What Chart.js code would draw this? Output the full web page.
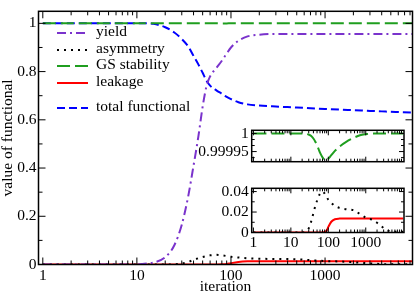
<!DOCTYPE html>
<html>
<head>
<meta charset="utf-8">
<script src="https://cdn.jsdelivr.net/npm/chart.js@4/dist/chart.umd.min.js"></script>
<style>
  body { margin: 0; background: #fff; }
  #wrap { position: relative; width: 415px; height: 295px; }
  canvas { position: absolute; }
</style>
</head>
<body>
<div id="wrap">
  <canvas id="mainChart" width="415" height="295" style="left:0;top:0"></canvas>
  <canvas id="insetGs" width="212" height="56" style="left:195px;top:118px"></canvas>
  <canvas id="insetAsym" width="212" height="78" style="left:195px;top:176px"></canvas>
</div>
<script>
// iteration grid shared by all series
const iterations = [1, 10, 12, 15, 20, 25, 30, 35, 40, 45, 50, 55, 60, 70, 80, 90, 100, 120, 150, 200, 300, 500, 700, 1000, 1500, 2000, 3000, 4000, 5000, 6000, 10000];

const yieldVals = [0, 0, 0.003, 0.008, 0.03, 0.08, 0.165, 0.28, 0.41, 0.53, 0.655, 0.74, 0.78, 0.815, 0.845, 0.875, 0.9, 0.928, 0.946, 0.953, 0.956, 0.956, 0.956, 0.956, 0.956, 0.956, 0.956, 0.956, 0.956, 0.956, 0.956];
const asymVals = [0, 0, 0, 0, 0, 0.001, 0.004, 0.011, 0.019, 0.026, 0.031, 0.035, 0.038, 0.04, 0.038, 0.035, 0.032, 0.029, 0.026, 0.024, 0.0228, 0.0215, 0.018, 0.0145, 0.0123, 0.0095, 0.0045, 0.0018, 0.001, 0.0008, 0.0007];
const gsVals = [1, 1, 1, 1, 1, 1, 0.999997, 0.999993, 0.999986, 0.999977, 0.999967, 0.999957, 0.999947, 0.999934, 0.999926, 0.999925, 0.99993, 0.99994, 0.999952, 0.999964, 0.999977, 0.999989, 0.999995, 0.999998, 1, 1, 1, 1, 1, 1, 1];
const leakVals = [0, 0, 0, 0, 0, 0, 0, 0, 0, 0, 0, 0, 0, 0.0002, 0.0006, 0.0018, 0.0055, 0.0105, 0.013, 0.0136, 0.0138, 0.0138, 0.0138, 0.0138, 0.0138, 0.0138, 0.0138, 0.0138, 0.0138, 0.0138, 0.0138];
const totalVals = [1, 1, 1, 0.998, 0.984, 0.962, 0.935, 0.905, 0.865, 0.83, 0.795, 0.762, 0.742, 0.722, 0.708, 0.695, 0.686, 0.673, 0.664, 0.659, 0.655, 0.651, 0.648, 0.645, 0.642, 0.64, 0.637, 0.635, 0.633, 0.632, 0.629];

// tick labels
const xTicks = [1, 10, 100, 1000];
const mainYTicks = [0, 0.2, 0.4, 0.6, 0.8, 1];
const mainYMinor = [0.1, 0.3, 0.5, 0.7, 0.9];
const gsYTicks = [0.99995, 1];
const gsYMinor = [0.9999333, 0.9999667, 0.9999833];
const asymYTicks = [0, 0.02, 0.04];
const asymYMinor = [0.01, 0.03];

// minor log ticks 2..9 in each decade
const xMinor = [];
xTicks.forEach(d => { for (let m = 2; m <= 9; m++) xMinor.push(d * m); });

const FONT = { family: '"Liberation Serif", "DejaVu Serif", serif', size: 15.5 };

const series = {
    yield:  { label: 'yield', data: yieldVals, color: '#7a33cc', dash: [9, 4, 2, 4] },
    asym:   { label: 'asymmetry', data: asymVals, color: '#000000', dash: [2, 5] },
    gs:     { label: 'GS stability', data: gsVals, color: '#1f9e1f', dash: [13, 5] },
    leak:   { label: 'leakage', data: leakVals, color: '#ff0000', dash: [] },
    total:  { label: 'total functional', data: totalVals, color: '#0000ff', dash: [8, 4] }
};

function dataset(s) {
    return {
        label: s.label,
        data: iterations.map((it, i) => ({ x: it, y: s.data[i] })),
        borderColor: s.color,
        backgroundColor: s.color,
        borderDash: s.dash,
        borderWidth: 2,
        pointRadius: 0,
        cubicInterpolationMode: 'monotone',
        fill: false
    };
}

// frame with inward ticks on all four sides, plus optional white background
const boxTicks = {
    id: 'boxTicks',
    beforeDraw(chart, args, o) {
        if (!o.fill) return;
        const a = chart.chartArea;
        chart.ctx.save();
        chart.ctx.fillStyle = '#fff';
        chart.ctx.fillRect(a.left, a.top, a.right - a.left, a.bottom - a.top);
        chart.ctx.restore();
    },
    afterDatasetsDraw(chart, args, o) {
        const { ctx, chartArea: a } = chart;
        const xs = chart.scales.x, ys = chart.scales.y;
        ctx.save();
        ctx.strokeStyle = '#000';
        ctx.lineWidth = 1;
        ctx.beginPath();
        const markX = (vals, len) => vals.forEach(v => {
            const p = xs.getPixelForValue(v);
            if (p < a.left - 0.5 || p > a.right + 0.5) return;
            ctx.moveTo(p, a.bottom); ctx.lineTo(p, a.bottom - len);
            ctx.moveTo(p, a.top); ctx.lineTo(p, a.top + len);
        });
        const markY = (vals, len) => vals.forEach(v => {
            const p = ys.getPixelForValue(v);
            if (p < a.top - 0.5 || p > a.bottom + 0.5) return;
            ctx.moveTo(a.left, p); ctx.lineTo(a.left + len, p);
            ctx.moveTo(a.right, p); ctx.lineTo(a.right - len, p);
        });
        markX(o.xMajor, o.major);
        markX(o.xMinor, o.minor);
        markY(o.yMajor, o.major);
        markY(o.yMinor, o.minor);
        ctx.stroke();
        ctx.lineWidth = o.frame;
        ctx.strokeRect(a.left, a.top, a.right - a.left, a.bottom - a.top);
        ctx.restore();
    }
};

// legend drawn inside the plot, line samples use the dataset styles
const innerLegend = {
    id: 'innerLegend',
    afterDraw(chart, args, o) {
        if (!o.rows) return;
        const ctx = chart.ctx;
        ctx.save();
        ctx.font = FONT.size + 'px ' + FONT.family;
        ctx.textBaseline = 'middle';
        ctx.fillStyle = '#000';
        chart.data.datasets.forEach((ds, i) => {
            const y = o.rows[i];
            ctx.strokeStyle = ds.borderColor;
            ctx.lineWidth = ds.borderWidth;
            ctx.setLineDash(ds.borderDash);
            ctx.beginPath();
            ctx.moveTo(o.x0, y + 1);
            ctx.lineTo(o.x1, y + 1);
            ctx.stroke();
            ctx.fillText(ds.label, o.textX, y);
        });
        ctx.restore();
    }
};

function logAxis(min, max, opts) {
    return Object.assign({
        type: 'logarithmic',
        min: min,
        max: max,
        afterBuildTicks: s => { s.ticks = xTicks.map(v => ({ value: v })); },
        ticks: { callback: v => String(v), font: FONT, color: '#000', padding: 2, autoSkip: false, maxRotation: 0 },
        grid: { display: false, drawTicks: false },
        border: { display: false }
    }, opts);
}

function linAxis(min, max, ticks, width, opts) {
    return Object.assign({
        type: 'linear',
        min: min,
        max: max,
        afterBuildTicks: s => { s.ticks = ticks.map(v => ({ value: v })); },
        afterFit: s => { s.width = width; },
        ticks: { callback: v => String(v), font: FONT, color: '#000', padding: 3 },
        grid: { display: false, drawTicks: false },
        border: { display: false }
    }, opts);
}

Chart.defaults.font.family = FONT.family;

new Chart(document.getElementById('mainChart'), {
    type: 'line',
    data: { datasets: [series.yield, series.asym, series.gs, series.leak, series.total].map(dataset) },
    options: {
        responsive: false,
        animation: false,
        layout: { padding: { top: 2, right: 2.5, left: 0, bottom: 0 } },
        scales: {
            x: logAxis(0.9, 8500, {
                afterFit: s => { s.height = 30.5; },
                title: { display: true, text: 'iteration', font: Object.assign({}, FONT, { lineHeight: 1 }), color: '#000', padding: 0 }
            }),
            y: linAxis(0, 1.05, mainYTicks, 38.5, {
                ticks: { callback: v => String(v), font: FONT, color: '#000', padding: 2 },
                title: { display: true, text: 'value of functional', font: Object.assign({}, FONT, { lineHeight: 1 }), color: '#000', padding: 0 }
            })
        },
        plugins: {
            legend: { display: false },
            tooltip: { enabled: false },
            boxTicks: { xMajor: xTicks, xMinor: xMinor, yMajor: mainYTicks, yMinor: mainYMinor, major: 7, minor: 4, frame: 1.5, fill: false },
            innerLegend: { rows: [32, 49, 65, 82, 107], x0: 57, x1: 88, textX: 96 }
        }
    },
    plugins: [boxTicks, innerLegend]
});

// inset: GS stability close-up
new Chart(document.getElementById('insetGs'), {
    type: 'line',
    data: { datasets: [series.gs].map(dataset) },
    options: {
        responsive: false,
        animation: false,
        layout: { padding: { top: 5, right: 3, left: 0, bottom: 2 } },
        scales: {
            x: logAxis(0.9, 10500, { display: false }),
            y: linAxis(0.999922, 1.0000088, gsYTicks, 56.7)
        },
        plugins: {
            legend: { display: false },
            tooltip: { enabled: false },
            boxTicks: { xMajor: xTicks, xMinor: xMinor, yMajor: gsYTicks, yMinor: gsYMinor, major: 5, minor: 3, frame: 1.5, fill: true }
        }
    },
    plugins: [boxTicks]
});

// inset: asymmetry and leakage close-up
new Chart(document.getElementById('insetAsym'), {
    type: 'line',
    data: { datasets: [series.asym, series.leak].map(dataset) },
    options: {
        responsive: false,
        animation: false,
        layout: { padding: { top: 5.7, right: 3, left: 0, bottom: 0 } },
        scales: {
            x: logAxis(0.9, 10500, {
                afterFit: s => { s.height = 21.5; },
                ticks: { callback: v => String(v), font: FONT, color: '#000', padding: 1, autoSkip: false, maxRotation: 0 }
            }),
            y: linAxis(0, 0.0432, asymYTicks, 56.7)
        },
        plugins: {
            legend: { display: false },
            tooltip: { enabled: false },
            boxTicks: { xMajor: xTicks, xMinor: xMinor, yMajor: asymYTicks, yMinor: asymYMinor, major: 5, minor: 3, frame: 1.5, fill: true }
        }
    },
    plugins: [boxTicks]
});
</script>
</body>
</html>
